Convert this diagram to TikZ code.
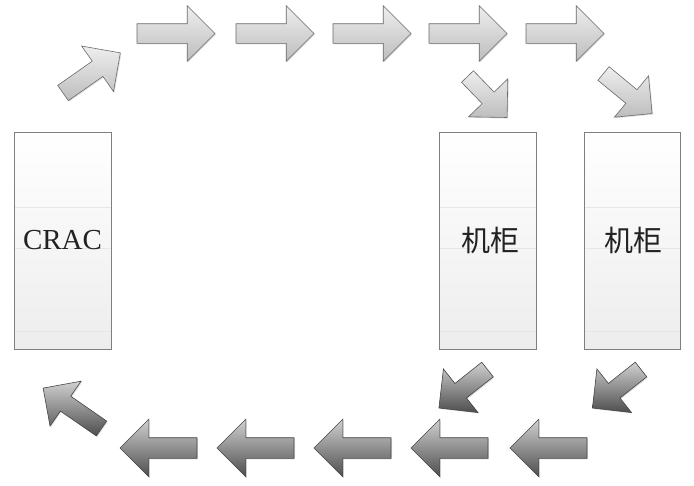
\documentclass[tikz,border=0pt]{standalone}
\usepackage{fontspec}
\setmainfont{Liberation Serif}
\newfontfamily\cjk{Noto Sans CJK SC}
\usetikzlibrary{shapes.arrows,shadows,calc}

\definecolor{lightTop}{HTML}{EEEEEE}
\definecolor{lightBottom}{HTML}{BDBDBD}
\definecolor{lightLine}{HTML}{6A6A6A}
\definecolor{darkTop}{HTML}{D0D0D0}
\definecolor{darkBottom}{HTML}{4E4E4E}
\definecolor{darkLine}{HTML}{454545}
\definecolor{boxLine}{HTML}{7F7F7F}
\definecolor{boxBottom}{HTML}{EDEDED}
\definecolor{boxRule}{HTML}{E6E6E6}
\definecolor{ink}{HTML}{222222}

\begin{document}
\begin{tikzpicture}[x=1pt,y=-1pt,
  blockarrow/.style={single arrow, outer sep=0pt, inner xsep=0pt,
    anchor=tail, line width=0.6pt, single arrow tip angle=90,
    drop shadow={shadow xshift=1pt, shadow yshift=-1pt, opacity=0.25}},
  lightarrow/.style={blockarrow, draw=lightLine, top color=lightTop,
    bottom color=lightBottom, rotate=#1},
  darkarrow/.style={blockarrow, draw=darkLine, top color=darkTop,
    bottom color=darkBottom, rotate=#1},
  arrowsize/.style n args={3}{minimum height=#1pt, inner ysep=#2/2*1pt,
    single arrow head extend=(#3-#2)/2*1pt},
  cabinet/.style={draw=boxLine, line width=0.8pt, top color=white,
    bottom color=boxBottom, inner sep=0pt, outer sep=0pt,
    minimum height=217pt, anchor=north west, text=ink,
    drop shadow={shadow xshift=1.2pt, shadow yshift=-1.2pt, opacity=0.3},
    path picture={
      \foreach \d in {75,116,199}
        \draw[boxRule, line width=0.6pt]
          ([yshift=-\d pt]path picture bounding box.north west) --
          ([yshift=-\d pt]path picture bounding box.north east);
    }},
]
\useasboundingbox (0,0) rectangle (694,485);

% cabinets
\node[cabinet, minimum width=97pt, font=\fontsize{29}{29}\selectfont]
  (crac) at (14,132) {CRAC};
\node[cabinet, minimum width=97pt, font=\cjk\fontsize{29}{29}\selectfont]
  (rack1) at (439,132) {\hspace{5pt}机柜};
\node[cabinet, minimum width=96pt, font=\cjk\fontsize{29}{29}\selectfont]
  (rack2) at (584,132) {\hspace{3pt}机柜};

% supply air, top row
\node[lightarrow=35, arrowsize={70}{18}{55}] (up) at (63,93) {};
\foreach \x [count=\i] in {137,236,333,429,526}
  \node[lightarrow=0, arrowsize={78}{19}{55}] (t\i) at (\x,33.5) {};
\node[lightarrow=-46, arrowsize={57}{16}{54}] (d1) at (467.5,76.5) {};
\node[lightarrow=-39.5, arrowsize={63}{17}{53}] (d2) at (603.5,73.5) {};

% return air, bottom row
\node[darkarrow=218.4, arrowsize={62}{18}{55}] (r1) at (487.5,369.5) {};
\node[darkarrow=218.4, arrowsize={62}{18}{55}] (r2) at (641,369.5) {};
\foreach \x [count=\i] in {197,294,391,488,587}
  \node[darkarrow=180, arrowsize={77}{20}{57}] (b\i) at (\x,448) {};
\node[darkarrow=145.3, arrowsize={71}{17.5}{54}] (back) at (101.5,428.5) {};
\end{tikzpicture}
\end{document}
